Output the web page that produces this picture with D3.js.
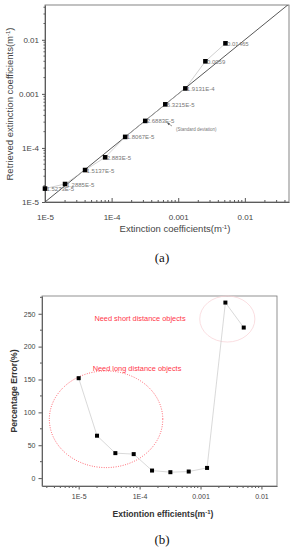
<!DOCTYPE html>
<html><head><meta charset="utf-8">
<script src="https://cdn.jsdelivr.net/npm/d3@7"></script>
<style>body{margin:0;background:#fff}svg{display:block}</style>
</head><body>
<svg id="c" width="294" height="550"></svg>
<script>
// ---- data ----
const trueExt = [1e-5, 2e-5, 4e-5, 8e-5, 1.6e-4, 3.2e-4, 6.4e-4, 1.28e-3, 2.56e-3, 5.12e-3];
const retrievedExt = [1.77e-5, 2.15e-5, 3.9e-5, 6.7e-5, 1.6e-4, 3.16e-4, 6.4e-4, 1.26e-3, 4.0e-3, 8.6e-3];
const stdLabels = ["1.5273E-5","1.2885E-5","1.5137E-5","2.883E-5","1.8067E-5","2.6883E-5","6.3215E-5","1.9131E-4","0.0059","0.01465"];
const pctError = [152, 64.5, 38, 36.5, 11.5, 9, 10, 15.5, 267, 229];
const logTickVals = [1e-5, 1e-4, 1e-3, 1e-2];
const logTickLabels = ["1E-5", "1E-4", "0.001", "0.01"];
const pctTickVals = [0, 50, 100, 150, 200, 250];
const longRegion = {x: [3.3e-6, 2.4e-4], y: [16, 163]};
const shortRegion = {x: [9.7e-4, 7.8e-3], y: [207, 277]};

const svg = d3.select("#c");
const F = "Liberation Sans, Arial, sans-serif";

function minorLog(lo, hi) {
  const out = [];
  for (let e = -6; e <= -1; e++) for (let m = 1; m <= 9; m++) {
    const v = m * Math.pow(10, e);
    if (v >= lo && v <= hi && m !== 1) out.push(v);
  }
  return out;
}

// ================= chart (a) =================
const xa = d3.scaleLog().domain([1e-5, 0.046]).range([45, 289]);
const ya = d3.scaleLog().domain([1e-5, 0.044]).range([202, 5]);
const ga = svg.append("g");
ga.append("defs").append("clipPath").attr("id", "clipA")
  .append("rect").attr("x", 45).attr("y", 5).attr("width", 244).attr("height", 197);

const xAxA = d3.axisTop(xa).tickValues(logTickVals).tickFormat((d, i) => logTickLabels[i]).tickSize(4).tickSizeOuter(0);
const gx = ga.append("g").attr("transform", "translate(0,202)").call(xAxA);
gx.selectAll("text").attr("y", 12).attr("dy", "0.71em").style("font-size", "8px");
gx.append("g").selectAll("line").data(minorLog(1e-5, 0.046)).join("line")
  .attr("x1", d => xa(d)).attr("x2", d => xa(d)).attr("y1", 0).attr("y2", -2).attr("stroke", "#555");
const yAxA = d3.axisLeft(ya).tickValues(logTickVals).tickFormat((d, i) => logTickLabels[i]).tickSize(3).tickSizeOuter(0);
const gy = ga.append("g").attr("transform", "translate(45,0)").call(yAxA);
gy.selectAll("text").style("font-size", "8px");
gy.append("g").selectAll("line").data(minorLog(1e-5, 0.044)).join("line")
  .attr("y1", d => ya(d)).attr("y2", d => ya(d)).attr("x1", 0).attr("x2", -1.5).attr("stroke", "#555");
[gx, gy].forEach(g => {
  g.selectAll("text").attr("fill", "#444").style("font-family", F);
  g.selectAll("line").attr("stroke", "#555");
  g.select(".domain").attr("stroke", "#555");
});
ga.append("rect").attr("x", 45).attr("y", 5).attr("width", 244).attr("height", 197)
  .attr("fill", "none").attr("stroke", "#666").attr("stroke-width", 0.8);
ga.append("line").attr("clip-path", "url(#clipA)")
  .attr("x1", xa(1e-5)).attr("y1", ya(1e-5)).attr("x2", xa(0.046)).attr("y2", ya(0.046))
  .attr("stroke", "#444").attr("stroke-width", 0.9);
ga.append("path").datum(trueExt.map((d, i) => [d, retrievedExt[i]]))
  .attr("d", d3.line().x(d => xa(d[0])).y(d => ya(d[1])))
  .attr("fill", "none").attr("stroke", "#bbb").attr("stroke-width", 0.7);
ga.selectAll("rect.pt").data(trueExt).join("rect").attr("class", "pt")
  .attr("x", (d, i) => xa(d) - 2.3).attr("y", (d, i) => ya(retrievedExt[i]) - 2.3)
  .attr("width", 4.6).attr("height", 4.6).attr("fill", "#000");
ga.selectAll("text.lb").data(trueExt).join("text").attr("class", "lb")
  .attr("x", d => xa(d) + 1.5).attr("y", (d, i) => ya(retrievedExt[i]) + 2.5)
  .text((d, i) => stdLabels[i]).attr("fill", "#777").style("font-size", "6px").style("font-family", F);
ga.append("text").attr("x", 176).attr("y", 131).text("(Standard deviation)")
  .attr("fill", "#777").style("font-size", "4.5px").style("font-family", F);
ga.append("line").attr("x1", 172).attr("y1", 126).attr("x2", 168).attr("y2", 123.5)
  .attr("stroke", "#555").attr("stroke-width", 0.6);
ga.append("path").attr("d", "M167,122.8 L170,123.3 L168.7,125.3 Z").attr("fill", "#555");
const tA = ga.append("text").attr("x", 175).attr("y", 232).attr("text-anchor", "middle")
  .attr("fill", "#444").style("font-size", "9.5px").style("font-family", F);
tA.append("tspan").text("Extinction coefficients(m");
tA.append("tspan").text("-1").attr("dy", -3.5).style("font-size", "6px");
tA.append("tspan").text(")").attr("dy", 3.5);
const tAy = ga.append("text").attr("transform", "translate(13,104) rotate(-90)").attr("text-anchor", "middle")
  .attr("fill", "#444").style("font-size", "9.5px").style("font-family", F);
tAy.append("tspan").text("Retrieved extinction coefficients(m");
tAy.append("tspan").text("-1").attr("dy", -3.5).style("font-size", "6px");
tAy.append("tspan").text(")").attr("dy", 3.5);
ga.append("text").attr("x", 162).attr("y", 262).attr("text-anchor", "middle").text("(a)")
  .attr("fill", "#111").style("font-size", "13px").style("font-family", "Liberation Serif, serif");

// ================= chart (b) =================
const xb = d3.scaleLog().domain([2.5e-6, 0.018]).range([42, 277]);
const yb = d3.scaleLinear().domain([-12, 277]).range([486, 296]);
const gb = svg.append("g");
const xAxB = d3.axisBottom(xb).tickValues(logTickVals).tickFormat((d, i) => logTickLabels[i]).tickSize(3.5).tickSizeOuter(0);
const gbx = gb.append("g").attr("transform", "translate(0,486)").call(xAxB);
gbx.selectAll("text").attr("y", 8).style("font-size", "7px");
gbx.append("g").selectAll("line").data(minorLog(2.5e-6, 0.018)).join("line")
  .attr("x1", d => xb(d)).attr("x2", d => xb(d)).attr("y1", 0).attr("y2", 2);
const yAxB = d3.axisLeft(yb).tickValues(pctTickVals).tickSize(3.5).tickSizeOuter(0);
const gby = gb.append("g").attr("transform", "translate(42,0)").call(yAxB);
gby.selectAll("text").style("font-size", "7px");
gby.append("g").selectAll("line").data([25, 75, 125, 175, 225, 275]).join("line")
  .attr("y1", d => yb(d)).attr("y2", d => yb(d)).attr("x1", 0).attr("x2", -2);
[gbx, gby].forEach(g => {
  g.selectAll("text").attr("fill", "#444").style("font-family", F);
  g.selectAll("line").attr("stroke", "#555");
  g.select(".domain").attr("stroke", "#555");
});
gb.append("rect").attr("x", 42).attr("y", 296).attr("width", 235).attr("height", 190)
  .attr("fill", "none").attr("stroke", "#777").attr("stroke-width", 0.8);
function ell(r, stroke, dash, w) {
  const x0 = xb(r.x[0]), x1 = xb(r.x[1]), y0 = yb(r.y[1]), y1 = yb(r.y[0]);
  gb.append("ellipse").attr("cx", (x0 + x1) / 2).attr("cy", (y0 + y1) / 2)
    .attr("rx", (x1 - x0) / 2).attr("ry", (y1 - y0) / 2)
    .attr("fill", "none").attr("stroke", stroke).attr("stroke-width", w)
    .attr("stroke-dasharray", dash);
}
ell(longRegion, "#ff2a3a", "0.8,1.6", 0.9);
ell(shortRegion, "#f8d0d4", null, 0.7);
gb.append("path").datum(trueExt.map((d, i) => [d, pctError[i]]))
  .attr("d", d3.line().x(d => xb(d[0])).y(d => yb(d[1])))
  .attr("fill", "none").attr("stroke", "#c8c8c8").attr("stroke-width", 0.7);
gb.selectAll("rect.pt").data(trueExt).join("rect").attr("class", "pt")
  .attr("x", d => xb(d) - 2).attr("y", (d, i) => yb(pctError[i]) - 2)
  .attr("width", 4).attr("height", 4).attr("fill", "#000");
gb.append("text").attr("x", 140).attr("y", 320.5).attr("text-anchor", "middle").text("Need short distance objects")
  .attr("fill", "#ff3548").style("font-size", "7.4px").style("font-family", F);
gb.append("text").attr("x", 137).attr("y", 370.5).attr("text-anchor", "middle").text("Need long distance objects")
  .attr("fill", "#ff3548").style("font-size", "7.4px").style("font-family", F);
const tB = gb.append("text").attr("x", 163).attr("y", 517).attr("text-anchor", "middle")
  .attr("fill", "#333").style("font-size", "8.6px").style("font-weight", "bold").style("font-family", F);
tB.append("tspan").text("Extiontion efficients(m");
tB.append("tspan").text("-1").attr("dy", -3.5).style("font-size", "6px");
tB.append("tspan").text(")").attr("dy", 3.5);
gb.append("text").attr("transform", "translate(17,391) rotate(-90)").attr("text-anchor", "middle")
  .text("Percentage Error(%)").attr("fill", "#333").style("font-size", "8.6px")
  .style("font-weight", "bold").style("font-family", F);
gb.append("text").attr("x", 162).attr("y", 544).attr("text-anchor", "middle").text("(b)")
  .attr("fill", "#111").style("font-size", "13px").style("font-family", "Liberation Serif, serif");
</script>
</body></html>
